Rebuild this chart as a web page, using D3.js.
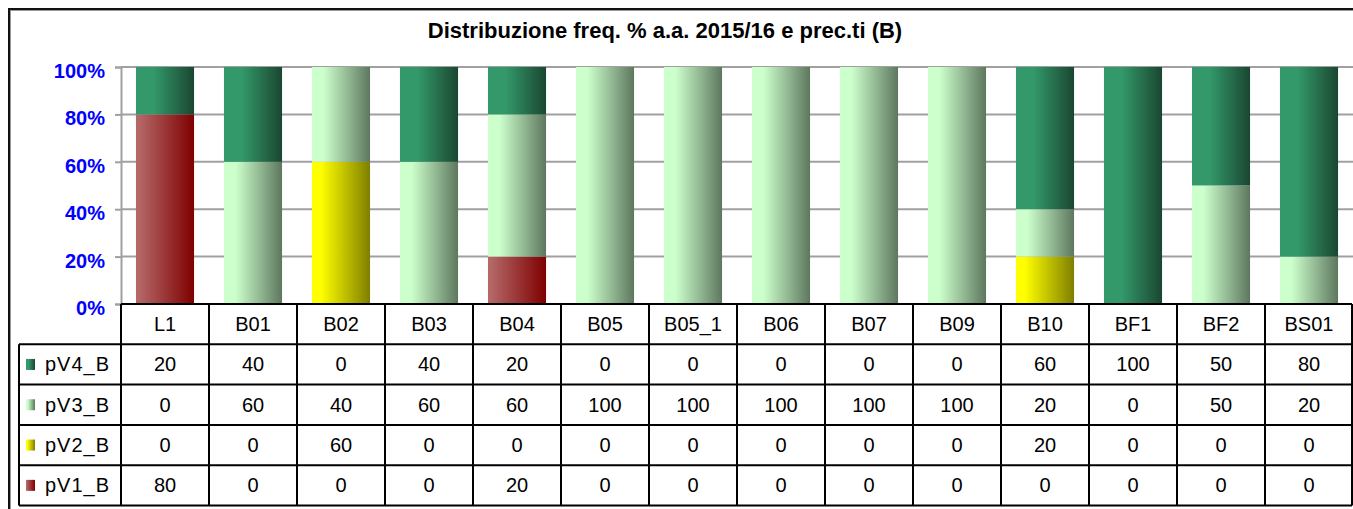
<!DOCTYPE html>
<html lang="en">
<head>
<meta charset="UTF-8">
<title>Distribuzione freq. %</title>
<script src="https://d3js.org/d3.v7.min.js"></script>
<style>
  body { margin: 0; background: #fff; }
  svg { display: block; font-family: "Liberation Sans", Arial, sans-serif; }
</style>
</head>
<body>
<div id="chart"></div>
<script>
// data
var categories = ["L1", "B01", "B02", "B03", "B04", "B05", "B05_1", "B06", "B07", "B09", "B10", "BF1", "BF2", "BS01"];
var pV1_B = [80, 0, 0, 0, 20, 0, 0, 0, 0, 0, 0, 0, 0, 0];
var pV2_B = [0, 0, 60, 0, 0, 0, 0, 0, 0, 0, 20, 0, 0, 0];
var pV3_B = [0, 60, 40, 60, 60, 100, 100, 100, 100, 100, 20, 0, 50, 20];
var pV4_B = [20, 40, 0, 40, 20, 0, 0, 0, 0, 0, 60, 100, 50, 80];
var seriesNames = ["pV1_B", "pV2_B", "pV3_B", "pV4_B"];
var yTicks = [0, 20, 40, 60, 80, 100];

var W = 1353, H = 509;
var plotLeft = 121, plotRight = 1353, plotTop = 67, plotBottom = 304;
var rowH = 40.3, legendLeft = 19;
var fs = "20px";

var svg = d3.select("#chart").append("svg")
  .attr("width", W).attr("height", H);

// gradients for the bar fills (light on the left, dark on the right)
var grads = [
  {id: "g1", c0: "#b46767", c1: "#7f0000", mid: 0.05},
  {id: "g2", c0: "#ffff00", c1: "#7f7f00", mid: 0.15},
  {id: "g3", c0: "#ccffcc", c1: "#5d775e", mid: 0.2},
  {id: "g4", c0: "#33996a", c1: "#1a4631", mid: 0.3}
];
var defs = svg.append("defs");
grads.forEach(function(g) {
  var lg = defs.append("linearGradient").attr("id", g.id)
    .attr("x1", "0%").attr("x2", "100%").attr("y1", "0%").attr("y2", "0%");
  lg.append("stop").attr("offset", "0%").attr("stop-color", g.c0);
  lg.append("stop").attr("offset", (g.mid * 100) + "%").attr("stop-color", g.c0);
  lg.append("stop").attr("offset", "100%").attr("stop-color", g.c1);
});

// outer frame (only top and left are visible)
svg.append("line").attr("x1", 9).attr("x2", W).attr("y1", 10.5).attr("y2", 10.5)
  .attr("stroke", "#999").attr("stroke-width", 1);
svg.append("line").attr("x1", 8).attr("x2", W).attr("y1", 9).attr("y2", 9)
  .attr("stroke", "#111").attr("stroke-width", 2);
svg.append("line").attr("x1", 9).attr("x2", 9).attr("y1", 8).attr("y2", H)
  .attr("stroke", "#111").attr("stroke-width", 2);
svg.append("line").attr("x1", 10.5).attr("x2", 10.5).attr("y1", 10).attr("y2", H)
  .attr("stroke", "#999").attr("stroke-width", 1);

// title
svg.append("text")
  .attr("x", 665).attr("y", 38)
  .attr("text-anchor", "middle")
  .style("font-size", "22px").style("font-weight", "bold")
  .text("Distribuzione freq. % a.a. 2015/16 e prec.ti (B)");

// scales
var x = d3.scaleBand().domain(categories).range([plotLeft, plotRight])
  .paddingInner(0.34).paddingOuter(0.17);
var xCol = d3.scaleBand().domain(categories).range([plotLeft, plotRight]);
var y = d3.scaleLinear().domain([0, 100]).range([plotBottom, plotTop]);

// gridlines
svg.append("g").selectAll("line").data(yTicks.slice(1)).enter().append("line")
  .attr("x1", plotLeft).attr("x2", plotRight)
  .attr("y1", function(d) { return y(d); }).attr("y2", function(d) { return y(d); })
  .attr("stroke", "#a0a0a0").attr("stroke-width", 2);

// y axis
var yAxis = svg.append("g")
  .attr("transform", "translate(" + plotLeft + ",0)")
  .call(d3.axisLeft(y).tickValues(yTicks).tickSize(6).tickPadding(10)
    .tickFormat(function(d) { return d + "%"; }));
yAxis.select(".domain").attr("stroke", "#a0a0a0").attr("stroke-width", 2);
yAxis.selectAll(".tick line").attr("stroke", "#a0a0a0").attr("stroke-width", 2);
yAxis.selectAll(".tick text")
  .attr("fill", "#0000ff").style("font-size", "20px").style("font-weight", "bold")
  .style("font-family", "'Liberation Sans', Arial, sans-serif")
  .attr("dy", "0.52em")
  .attr("x", -16);

// stacked bars
var rows = categories.map(function(c, i) {
  return {cat: c, pV1_B: pV1_B[i], pV2_B: pV2_B[i], pV3_B: pV3_B[i], pV4_B: pV4_B[i]};
});
var stacked = d3.stack().keys(seriesNames)(rows);
var layers = svg.append("g").selectAll("g").data(stacked).enter().append("g")
  .attr("fill", function(d, i) { return "url(#" + grads[i].id + ")"; });
layers.selectAll("rect").data(function(d) { return d; }).enter().append("rect")
  .filter(function(d) { return d[1] - d[0] > 0; })
  .attr("x", function(d) { return x(d.data.cat); })
  .attr("width", x.bandwidth())
  .attr("y", function(d) { return y(d[1]); })
  .attr("height", function(d) { return y(d[0]) - y(d[1]); });

// data table
var table = svg.append("g");
var tableRows = [
  {name: "pV4_B", vals: pV4_B, grad: "g4"},
  {name: "pV3_B", vals: pV3_B, grad: "g3"},
  {name: "pV2_B", vals: pV2_B, grad: "g2"},
  {name: "pV1_B", vals: pV1_B, grad: "g1"}
];
var tableBottom = plotBottom + rowH * 5;

// horizontal lines
table.append("line").attr("x1", plotLeft).attr("x2", plotRight - 1)
  .attr("y1", plotBottom).attr("y2", plotBottom);
d3.range(1, 6).forEach(function(k) {
  table.append("line").attr("x1", legendLeft).attr("x2", plotRight - 1)
    .attr("y1", plotBottom + rowH * k).attr("y2", plotBottom + rowH * k);
});
// vertical lines
categories.forEach(function(c) {
  table.append("line").attr("x1", xCol(c)).attr("x2", xCol(c))
    .attr("y1", plotBottom).attr("y2", tableBottom);
});
table.append("line").attr("x1", plotRight - 1).attr("x2", plotRight - 1)
  .attr("y1", plotBottom).attr("y2", tableBottom);
table.append("line").attr("x1", legendLeft).attr("x2", legendLeft)
  .attr("y1", plotBottom + rowH).attr("y2", tableBottom);
table.selectAll("line").attr("stroke", "#000").attr("stroke-width", 2);

// header labels
table.selectAll("text.cat").data(categories).enter().append("text")
  .attr("class", "cat")
  .attr("x", function(d) { return xCol(d) + xCol.bandwidth() / 2; })
  .attr("y", plotBottom + rowH / 2 + 7)
  .attr("text-anchor", "middle")
  .style("font-size", fs)
  .text(function(d) { return d; });

// value rows
tableRows.forEach(function(r, k) {
  var cy = plotBottom + rowH * (k + 1) + rowH / 2;
  table.append("rect").attr("x", 26).attr("y", cy - 5.5)
    .attr("width", 9).attr("height", 11).attr("fill", "url(#" + r.grad + ")");
  table.append("text").attr("x", 45).attr("y", cy + 7)
    .style("font-size", fs).style("letter-spacing", "1px").text(r.name);
  table.selectAll("text.v" + k).data(r.vals).enter().append("text")
    .attr("class", "v" + k)
    .attr("x", function(d, i) { return xCol(categories[i]) + xCol.bandwidth() / 2; })
    .attr("y", cy + 7)
    .attr("text-anchor", "middle")
    .style("font-size", fs)
    .text(function(d) { return d; });
});
</script>
</body>
</html>
